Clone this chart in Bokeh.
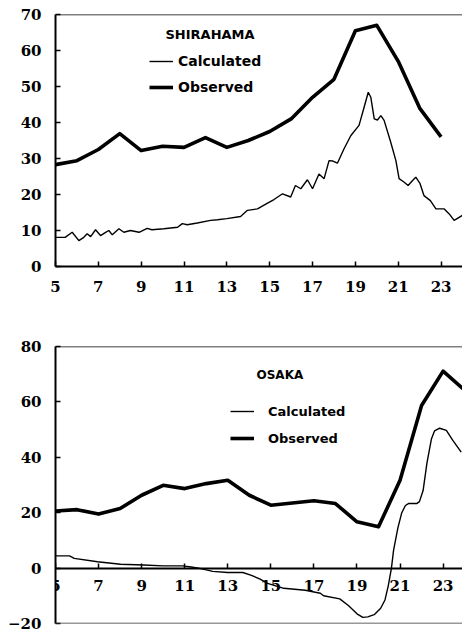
from bokeh.plotting import figure
from bokeh.layouts import column
from bokeh.models import Range1d, FixedTicker, Span, Label, Legend, LegendItem
from bokeh.embed import file_html
from bokeh.resources import INLINE

# ---- SHIRAHAMA ----
shira_obs_hour = list(range(5, 24))
shira_obs = [28.3, 29.4, 32.5, 36.9, 32.2, 33.4, 33.1, 35.8, 33.1, 35.0, 37.5,
             41.0, 47.0, 52.0, 65.5, 67.0, 57.0, 44.0, 36.0]

shira_calc_hour = [5.0, 5.45, 5.78, 6.09, 6.32, 6.48, 6.64, 6.87, 7.1, 7.34, 7.49,
                   7.65, 7.96, 8.19, 8.5, 8.9, 9.28, 9.5, 10.06, 10.7, 10.92, 11.15,
                   11.62, 12.24, 12.56, 13.0, 13.64, 13.96, 14.43, 14.9, 15.2, 15.6,
                   15.98, 16.2, 16.45, 16.76, 17.0, 17.3, 17.54, 17.77, 17.95, 18.16,
                   18.47, 18.79, 19.17, 19.41, 19.6, 19.72, 19.88, 20.03, 20.19, 20.34,
                   20.65, 20.89, 21.04, 21.28, 21.46, 21.67, 21.82, 22.02, 22.2, 22.5,
                   22.76, 23.15, 23.38, 23.61, 24.0]
shira_calc = [8.1, 8.1, 9.5, 7.2, 8.1, 9.1, 8.3, 10.2, 8.6, 9.5, 10.0,
              8.8, 10.5, 9.5, 10.0, 9.5, 10.6, 10.2, 10.5, 10.9, 11.9, 11.6,
              12.1, 12.8, 13.0, 13.3, 13.9, 15.6, 16.0, 17.6, 18.6, 20.2,
              19.3, 22.5, 21.6, 24.1, 21.6, 25.7, 24.4, 29.4, 29.3, 28.7,
              32.7, 36.4, 39.2, 44.3, 48.4, 47.0, 41.0, 40.7, 41.9, 40.6,
              34.5, 29.4, 24.4, 23.4, 22.5, 23.9, 24.8, 23.0, 19.7, 18.3,
              16.0, 16.0, 14.6, 12.8, 14.2]

# ---- OSAKA ----
osaka_obs_hour = list(range(5, 25))
osaka_obs = [20.6, 21.1, 19.5, 21.5, 26.3, 29.9, 28.7, 30.5, 31.7, 26.3, 22.7,
             23.5, 24.3, 23.3, 16.7, 14.9, 31.7, 58.7, 71.1, 64.2]

osaka_calc_hour = [5.0, 5.65, 5.87, 6.95, 8.02, 9.09, 10.0, 10.9, 11.3, 11.7, 12.3,
                   13.0, 13.7, 14.1, 14.5, 14.85, 15.6, 16.6, 17.3, 17.45, 18.2,
                   18.6, 19.0, 19.27, 19.5, 19.8, 20.1, 20.3, 20.45, 20.6, 20.7,
                   20.9, 21.08, 21.25, 21.39, 21.77, 21.9, 22.07, 22.25, 22.46, 22.6,
                   22.84, 23.15, 23.45, 23.84]
osaka_calc = [4.4, 4.4, 3.5, 2.3, 1.4, 1.1, 0.8, 0.8, 0.4, -0.1, -1.2,
              -1.6, -1.6, -2.6, -4.0, -5.5, -7.3, -8.0, -9.1, -10.0, -11.1,
              -13.5, -16.5, -17.8, -17.6, -16.8, -14.5, -11.5, -6.5, 0.0, 6.5,
              14.5, 20.0, 22.6, 23.3, 23.3, 24.0, 28.0, 38.0, 46.7, 49.5,
              50.5, 49.7, 46.1, 41.9]

hour_ticks = [5, 7, 9, 11, 13, 15, 17, 19, 21, 23]
shira_yticks = [0, 10, 20, 30, 40, 50, 60, 70]
osaka_yticks = [-20, 0, 20, 40, 60, 80]

TICK_FONT = "'DejaVu Serif'"
LEG_FONT = "'DejaVu Sans'"


def style_axes(p, yticks):
    p.xaxis.ticker = FixedTicker(ticks=hour_ticks)
    p.yaxis.ticker = FixedTicker(ticks=yticks)
    for ax in list(p.xaxis) + list(p.yaxis):
        ax.major_tick_in = 5
        ax.major_tick_out = 0
        ax.minor_tick_in = 0
        ax.minor_tick_out = 0
        ax.axis_line_width = 2
        ax.axis_line_color = "black"
        ax.major_tick_line_color = "black"
        ax.major_tick_line_width = 1.5
        ax.major_label_text_font = TICK_FONT
        ax.major_label_text_font_style = "bold"
        ax.major_label_text_font_size = "15px"
        ax.major_label_text_color = "black"
    p.xaxis.major_label_standoff = 14
    p.yaxis.major_label_standoff = 14
    p.xgrid.visible = False
    p.ygrid.visible = False
    p.outline_line_color = None


def add_legend(p, r_calc, r_obs, loc, standoff, size, pitch_gap):
    leg = Legend(
        items=[LegendItem(label="Calculated", renderers=[r_calc]),
               LegendItem(label="Observed", renderers=[r_obs])],
        location=loc, glyph_width=24, glyph_height=20, label_height=20,
        label_width=10, spacing=pitch_gap, label_standoff=standoff, padding=0,
        margin=0, border_line_color=None, background_fill_alpha=0,
        label_text_font=LEG_FONT, label_text_font_style="bold",
        label_text_font_size=size, label_text_color="black",
    )
    p.add_layout(leg)


# Top panel
p1 = figure(width=462, height=300, output_backend="svg", toolbar_location=None,
            x_range=Range1d(5, 24.0), y_range=Range1d(0, 70),
            min_border_left=55, min_border_right=0, min_border_top=14,
            min_border_bottom=34, background_fill_color="white",
            border_fill_color="white")
style_axes(p1, shira_yticks)
p1.add_layout(Span(location=70, dimension="width", line_color="black", line_width=1.5))
c1 = p1.line(shira_calc_hour, shira_calc, line_color="black", line_width=1.4)
o1 = p1.line(shira_obs_hour, shira_obs, line_color="black", line_width=3.6,
             line_join="round")
add_legend(p1, c1, o1, (94, 169), 5, "14px", 6)
p1.add_layout(Label(x=110, y=232, x_units="screen", y_units="screen",
                    text="SHIRAHAMA", text_baseline="middle", text_font=LEG_FONT,
                    text_font_style="bold", text_font_size="13px", text_color="black"))

# Bottom panel
p2 = figure(width=462, height=332, output_backend="svg", toolbar_location=None,
            x_range=Range1d(5, 23.9), y_range=Range1d(-20, 80),
            min_border_left=51, min_border_right=0, min_border_top=46,
            min_border_bottom=9, background_fill_color="white",
            border_fill_color="white")
style_axes(p2, osaka_yticks)
p2.xaxis.fixed_location = 0
p2.xaxis.major_label_standoff = 12
p2.add_layout(Span(location=80, dimension="width", line_color="black", line_width=1.5))
p2.add_layout(Span(location=-20, dimension="width", line_color="#333333", line_width=1.5))
c2 = p2.line(osaka_calc_hour, osaka_calc, line_color="black", line_width=1.4)
o2 = p2.line(osaka_obs_hour, osaka_obs, line_color="black", line_width=3.6,
             line_join="round")
add_legend(p2, c2, o2, (175, 175), 14, "13px", 7)
p2.add_layout(Label(x=201, y=249, x_units="screen", y_units="screen",
                    text="OSAKA", text_baseline="middle", text_font=LEG_FONT,
                    text_font_style="bold", text_font_size="12px", text_color="black"))

layout = column(p1, p2)
open("out.html", "w").write(file_html(layout, INLINE))
